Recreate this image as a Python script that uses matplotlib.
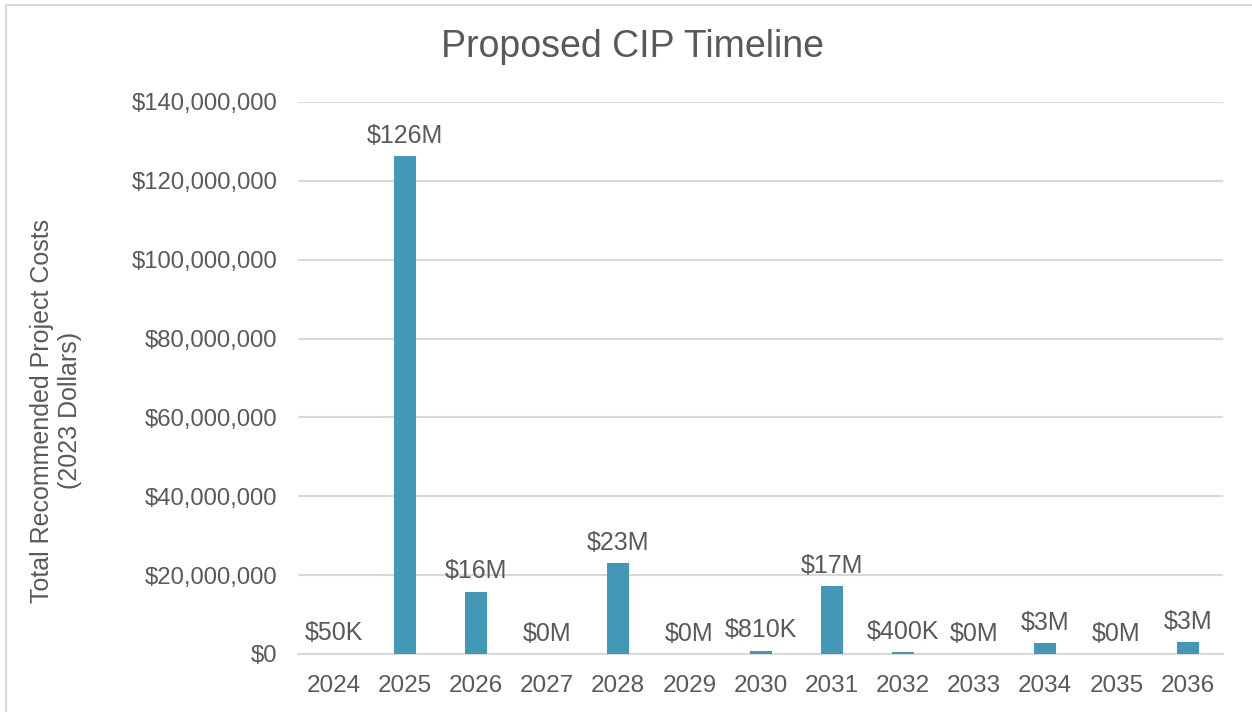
import matplotlib.pyplot as plt
from matplotlib.patches import Rectangle
from matplotlib.ticker import FuncFormatter

plt.rcParams["font.family"] = ["Liberation Sans", "DejaVu Sans"]

years = ["2024", "2025", "2026", "2027", "2028", "2029", "2030",
         "2031", "2032", "2033", "2034", "2035", "2036"]
costs = [50_000, 126_200_000, 15_800_000, 0, 23_000_000, 0, 810_000,
         17_200_000, 400_000, 0, 2_700_000, 0, 3_000_000]

text_color = "#595959"
bar_color = "#4398B7"
grid_color = "#D9D9D9"


def short_dollars(value):
    if 0 < value < 1_000_000:
        return f"${value / 1_000:.0f}K"
    return f"${value / 1_000_000:.0f}M"


fig = plt.figure(figsize=(12.52, 7.12), dpi=100)
ax = fig.add_axes([0.238, 0.0815, 0.739, 0.7753])

positions = range(len(years))
bars = ax.bar(positions, costs, width=0.31, color=bar_color, zorder=3)
for bar, value in zip(bars, costs):
    ax.annotate(short_dollars(value),
                xy=(bar.get_x() + bar.get_width() / 2, bar.get_height()),
                xytext=(0, 6), textcoords="offset points",
                ha="center", va="bottom", fontsize=18, color=text_color)

ax.set_xlim(-0.5, len(years) - 0.5)
ax.set_ylim(0, 140_000_000)
ax.set_yticks(range(0, 140_000_001, 20_000_000))
ax.yaxis.set_major_formatter(FuncFormatter(lambda v, _: f"${v:,.0f}"))
ax.set_xticks(list(positions))
ax.set_xticklabels(years)
ax.tick_params(axis="both", length=0, labelcolor=text_color)
ax.tick_params(axis="y", pad=15, labelsize=17.2)
ax.tick_params(axis="x", pad=15, labelsize=17.5)

ax.grid(axis="y", color=grid_color, linewidth=1.5, zorder=0)
for side in ["top", "right", "left"]:
    ax.spines[side].set_visible(False)
ax.spines["bottom"].set_color(grid_color)
ax.spines["bottom"].set_linewidth(1.5)

fig.text(0.505, 0.934, "Proposed CIP Timeline", ha="center", va="center",
         fontsize=27, color=text_color)
fig.text(0.045, 0.423, "Total Recommended Project Costs\n(2023 Dollars)",
         ha="center", va="center", rotation=90, multialignment="center",
         fontsize=18, color=text_color)

# light frame round the chart area
fig.patches.append(Rectangle((6 / 1252, -0.1), 1.2, 1.1 - 5 / 712,
                             transform=fig.transFigure, fill=False,
                             edgecolor=grid_color, linewidth=1.5))

fig.savefig("out.png", dpi=100)
